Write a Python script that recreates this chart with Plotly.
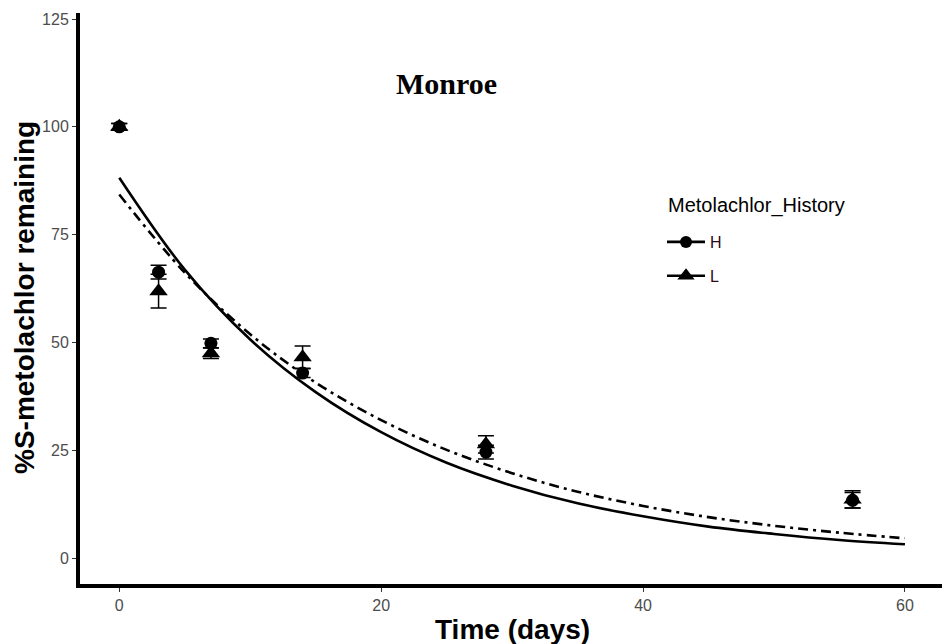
import plotly.graph_objects as go

# Observed data
days = [0, 3, 7, 14, 28, 56]
h_mean = [100.0, 66.3, 49.8, 42.9, 24.6, 13.4]
h_err = [0.8, 1.6, 1.0, 1.0, 1.6, 1.8]
l_mean = [100.0, 61.9, 47.5, 46.6, 26.4, 13.6]
l_err = [0.8, 3.9, 1.2, 2.6, 2.0, 2.0]

# Fitted curves
fit_days = [0, 5, 10, 15, 20, 25, 30, 35, 40, 45, 50, 55, 60]
fit_h = [88.2, 66.9, 50.7, 38.5, 29.2, 22.1, 16.8, 12.7, 9.7, 7.3, 5.6, 4.2, 3.2]
fit_l = [84.3, 66.2, 51.9, 40.7, 32.0, 25.1, 19.7, 15.4, 12.1, 9.5, 7.5, 5.9, 4.6]

x_ticks = [0, 20, 40, 60]
y_ticks = [0, 25, 50, 75, 100, 125]

fig = go.Figure()

fig.add_trace(go.Scatter(
    x=fit_days, y=fit_h, mode="lines", line=dict(color="black", width=2.6, shape="spline"),
    showlegend=False, hoverinfo="skip"))
fig.add_trace(go.Scatter(
    x=fit_days, y=fit_l, mode="lines",
    line=dict(color="black", width=2.6, shape="spline", dash="10px,5px,3px,5px"),
    showlegend=False, hoverinfo="skip"))

fig.add_trace(go.Scatter(
    x=days, y=h_mean, mode="markers",
    marker=dict(symbol="circle", size=13, color="black"),
    error_y=dict(type="data", array=h_err, color="black", thickness=1.5, width=8),
    showlegend=False))
fig.add_trace(go.Scatter(
    x=days, y=l_mean, mode="markers",
    marker=dict(symbol="triangle-up", size=16, color="black"),
    error_y=dict(type="data", array=l_err, color="black", thickness=1.5, width=8),
    showlegend=False))

# legend entries
fig.add_trace(go.Scatter(
    x=[None], y=[None], mode="lines+markers", name="H", legendgroup="H",
    marker=dict(symbol="circle", size=12, color="black"),
    line=dict(color="black", width=2.6)))
fig.add_trace(go.Scatter(
    x=[None], y=[None], mode="lines+markers", name="L", legendgroup="L",
    marker=dict(symbol="triangle-up", size=15, color="black"),
    line=dict(color="black", width=2.6)))

fig.add_annotation(x=25, y=110, xref="x", yref="y", text="<b>Monroe</b>",
                   showarrow=False, font=dict(family="Liberation Serif", size=30, color="black"))

fig.add_annotation(x=0, y=(584 - 298) / 571, xref="paper", yref="paper", xshift=-56,
                   xanchor="center", yanchor="middle",
                   text="<b>%S-metolachlor remaining</b>", textangle=-90, showarrow=False,
                   font=dict(family="Liberation Sans", size=28, color="black"))
fig.add_annotation(x=(512 - 80) / 862, y=0, xref="paper", yref="paper", yshift=-45,
                   xanchor="center", yanchor="middle",
                   text="<b>Time (days)</b>", showarrow=False,
                   font=dict(family="Liberation Sans", size=28, color="black"))

# legend title
fig.add_annotation(x=(666 - 80) / 862, y=(584 - 205) / 571, xref="paper", yref="paper",
                   xanchor="left", yanchor="middle", text="Metolachlor_History", showarrow=False,
                   font=dict(family="Liberation Sans", size=20, color="black"))

axis_common = dict(showgrid=False, zeroline=False, showline=True, linecolor="black", linewidth=4,
                   ticks="outside", ticklen=4, tickcolor="#333333", tickwidth=1,
                   tickfont=dict(family="Liberation Sans", size=16, color="#4D4D4D"))

fig.update_layout(
    width=942, height=644,
    margin=dict(l=80, r=0, t=13, b=60),
    plot_bgcolor="white", paper_bgcolor="white",
    xaxis=dict(range=[-3, 62.83], tickvals=x_ticks, **axis_common),
    yaxis=dict(range=[-6.0, 126.4], tickvals=y_ticks, **axis_common),
    legend=dict(x=(662 - 80) / 862, y=(584 - 225) / 571, xanchor="left", yanchor="top",
                font=dict(family="Liberation Sans", size=16, color="#2a0a18"),
                itemwidth=38,
                tracegroupgap=10, traceorder="grouped", bgcolor="rgba(0,0,0,0)"),
)

fig.write_html("out.html")
